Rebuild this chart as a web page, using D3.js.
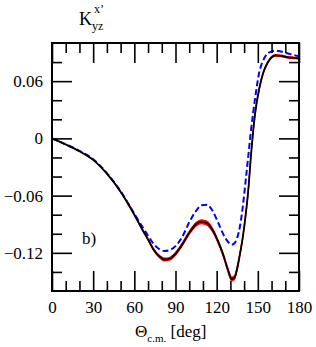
<!DOCTYPE html>
<html>
<head>
<meta charset="utf-8">
<script src="https://cdn.jsdelivr.net/npm/d3@7"></script>
<style>
  body { margin: 0; background: #fff; }
  svg, svg text { font-family: "Liberation Serif", "Times New Roman", Times, "DejaVu Serif", serif !important; }
  svg text { fill: #000; }
</style>
</head>
<body>
<div id="chart"></div>
<script>
// scattering angle grid (deg)
const theta = [0, 10, 20, 30, 40, 50, 60, 66, 70, 74, 78, 82, 86, 90, 95, 100, 105, 109, 113, 117,
               121, 125, 128, 131, 133, 135, 137, 139, 141, 143, 145, 148, 151, 154, 157, 160, 163,
               167, 172, 176, 180];

// full calculation (black solid)
const kFull = [0, -0.0064, -0.0135, -0.0225, -0.037, -0.056, -0.080, -0.096, -0.106, -0.1165, -0.1235,
               -0.127, -0.126, -0.121, -0.111, -0.099, -0.090, -0.0873, -0.089, -0.096,
               -0.108, -0.123, -0.137, -0.1475, -0.146, -0.136, -0.121, -0.104, -0.082, -0.055,
               -0.018, 0.026, 0.052, 0.069, 0.079, 0.085, 0.087, 0.0865, 0.085, 0.0845, 0.084];

// half width of the red uncertainty band
const bandHalf = [0, 0, 0, 0, 0, 0.0003, 0.0005, 0.0006, 0.0008, 0.001, 0.0012,
                  0.0014, 0.0014, 0.0014, 0.0014, 0.0016, 0.0018, 0.002, 0.002, 0.0018,
                  0.0016, 0.0016, 0.0018, 0.002, 0.002, 0.0018, 0.0015, 0.0012, 0.001, 0.0008,
                  0.0008, 0.0008, 0.0008, 0.0008, 0.0008, 0.0008, 0.0008, 0.0008, 0.0008, 0.0008, 0.0008];

// comparison calculation (blue dashed)
const kDashed = [0, -0.0062, -0.013, -0.0218, -0.0364, -0.0554, -0.079, -0.093, -0.102, -0.1105, -0.116,
                 -0.118, -0.117, -0.113, -0.103, -0.088, -0.076, -0.070, -0.0695, -0.076,
                 -0.088, -0.101, -0.108, -0.1115, -0.110, -0.104, -0.092, -0.072, -0.046, -0.019,
                 0.008, 0.042, 0.069, 0.082, 0.089, 0.091, 0.092, 0.091, 0.089, 0.0875, 0.086];

const xMajor = [0, 30, 60, 90, 120, 150, 180];
const xMinor = [10, 20, 40, 50, 70, 80, 100, 110, 130, 140, 160, 170];
const yMajor = [-0.12, -0.06, 0, 0.06];
const yMinor = [-0.14, -0.10, -0.08, -0.04, -0.02, 0.02, 0.04, 0.08];

const W = 316, H = 347;
const margin = {top: 43, right: 17, bottom: 56, left: 52};
const serif = '"Liberation Serif", "Times New Roman", Times, serif';

const svg = d3.select('#chart').append('svg')
    .attr('width', W)
    .attr('height', H)
    .attr('font-family', serif);

const x = d3.scaleLinear().domain([0, 180]).range([margin.left, W - margin.right]);
const y = d3.scaleLinear().domain([-0.16, 0.1]).range([H - margin.bottom, margin.top]);

const data = theta.map((t, i) => ({t: t, k: kFull[i], lo: kFull[i] - bandHalf[i],
                                   hi: kFull[i] + bandHalf[i], d: kDashed[i]}));

const plot = svg.append('g');

// red band
plot.append('path')
    .datum(data)
    .attr('fill', '#ff0000')
    .attr('stroke', '#ff0000')
    .attr('stroke-width', 1.2)
    .attr('d', d3.area()
        .x(d => x(d.t))
        .y0(d => y(d.lo))
        .y1(d => y(d.hi))
        .curve(d3.curveMonotoneX));

// blue dashed
plot.append('path')
    .datum(data)
    .attr('fill', 'none')
    .attr('stroke', '#0000ff')
    .attr('stroke-width', 2)
    .attr('stroke-dasharray', '6,3')
    .attr('d', d3.line()
        .x(d => x(d.t))
        .y(d => y(d.d))
        .curve(d3.curveMonotoneX));

// black full
plot.append('path')
    .datum(data)
    .attr('fill', 'none')
    .attr('stroke', '#000')
    .attr('stroke-width', 1.8)
    .attr('d', d3.line()
        .x(d => x(d.t))
        .y(d => y(d.k))
        .curve(d3.curveMonotoneX));

// axes, ticks inside on all four sides
const fmtY = d => d === 0 ? '0' : d3.format('.2f')(d);

function addAxis(axisGen, tr, major, minor, showLabels, fmt) {
    const gMaj = svg.append('g')
        .attr('transform', tr)
        .call(axisGen.tickValues(major).tickSizeInner(-20).tickSizeOuter(0)
            .tickPadding(showLabels ? 28 : 0).tickFormat(showLabels ? fmt : ''));
    const gMin = svg.append('g')
        .attr('transform', tr)
        .call(axisGen.tickValues(minor).tickSizeInner(-10).tickSizeOuter(0).tickFormat(''));
    [gMaj, gMin].forEach(g => {
        g.attr('font-family', serif);
        g.select('.domain').remove();
        g.selectAll('line').attr('stroke', '#000').attr('stroke-width', 1.6);
    });
    gMaj.selectAll('text')
        .attr('font-family', serif)
        .attr('font-size', 17)
        .attr('fill', '#000');
    return gMaj;
}

const bx = addAxis(d3.axisBottom(x), `translate(0,${H - margin.bottom})`, xMajor, xMinor, true, d3.format('d'));
bx.selectAll('text').attr('dy', null).attr('y', 22);
addAxis(d3.axisTop(x), `translate(0,${margin.top})`, xMajor, xMinor, false);
const ly = addAxis(d3.axisLeft(y), `translate(${margin.left},0)`, yMajor, yMinor, true, fmtY);
ly.selectAll('text').attr('x', -9).attr('dy', '0.32em');
addAxis(d3.axisRight(y), `translate(${W - margin.right},0)`, yMajor, yMinor, false);

// frame
svg.append('rect')
    .attr('x', margin.left)
    .attr('y', margin.top)
    .attr('width', W - margin.left - margin.right)
    .attr('height', H - margin.top - margin.bottom)
    .attr('fill', 'none')
    .attr('stroke', '#000')
    .attr('stroke-width', 2);

// x title
const xt = svg.append('text')
    .attr('x', 135)
    .attr('y', 337)
    .attr('font-size', 17);
xt.append('tspan').text('Θ');
xt.append('tspan').attr('dy', 5).attr('font-size', 11).text('c.m.');
xt.append('tspan').attr('dy', -5).text(' [deg]');

// y title
const yt = svg.append('text')
    .attr('x', 79)
    .attr('y', 25)
    .attr('font-size', 18);
yt.append('tspan').text('K');
yt.append('tspan').attr('dy', 5).attr('font-size', 12).text('yz');
svg.append('text')
    .attr('x', 94)
    .attr('y', 13)
    .attr('font-size', 12)
    .text('x\u2019');

// panel label
svg.append('text')
    .attr('x', 82)
    .attr('y', 244)
    .attr('font-size', 17)
    .text('b)');
</script>
</body>
</html>
